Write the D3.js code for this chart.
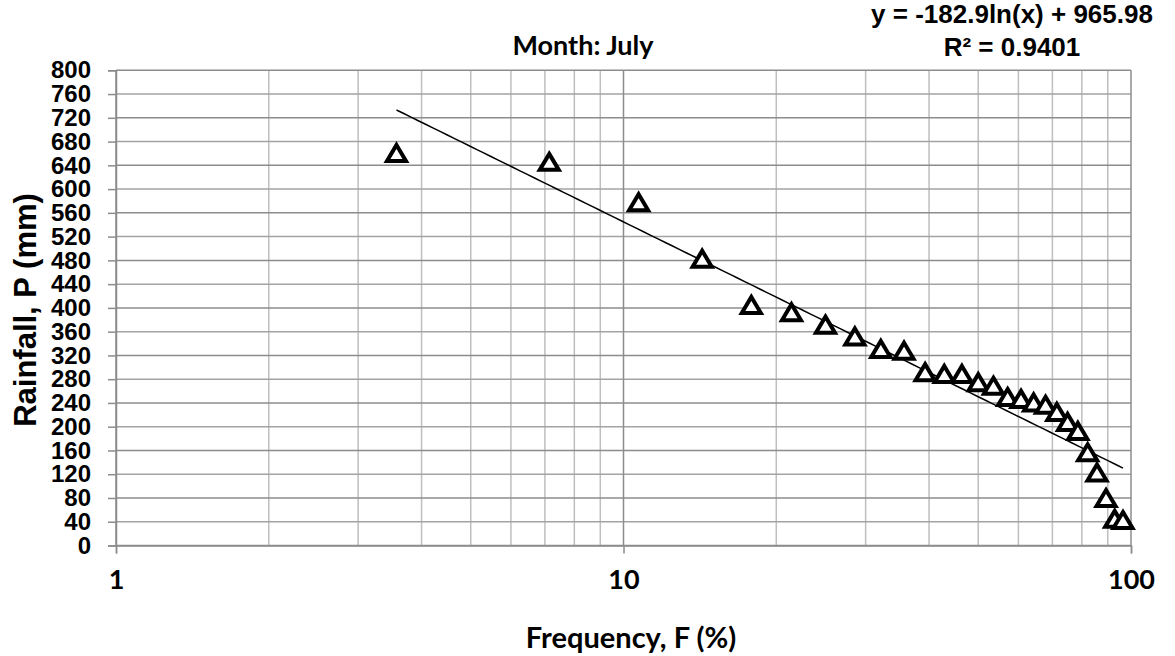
<!DOCTYPE html>
<html>
<head>
<meta charset="utf-8">
<script src="https://cdn.jsdelivr.net/npm/d3@7"></script>
<style>
  body { margin: 0; background: #fff; }
  svg text { fill: #000; }
</style>
</head>
<body>
<script>
// frequency (%) and rainfall (mm)
var frequency = [3.57, 7.14, 10.71, 14.29, 17.86, 21.43, 25, 28.57, 32.14, 35.71,
                 39.29, 42.86, 46.43, 50, 53.57, 57.14, 60.71, 64.29, 67.86, 71.43,
                 75, 78.57, 82.14, 85.71, 89.29, 92.86, 96.43];
var rainfall = [660, 645, 577, 482, 404, 392, 371, 351, 330, 327,
                291, 288, 288, 274, 268, 249, 246, 240, 236, 224,
                207, 192, 156, 122, 79, 44, 42];
var xTicks = [1, 10, 100];
var yTicks = d3.range(0, 801, 40);
var trendCoef = [-182.9, 965.98];
var eqLines = ['y = -182.9ln(x) + 965.98', 'R\u00b2 = 0.9401'];

var W = 1175, H = 656;
var plotL = 116, plotR = 1131, plotT = 70.3, plotB = 545.5;

var svg = d3.select('body').append('svg')
  .attr('width', W)
  .attr('height', H);

var x = d3.scaleLog().domain([1, 100]).range([plotL, plotR]);
var y = d3.scaleLinear().domain([0, 800]).range([plotB, plotT]);

// minor vertical grid
var minorX = [];
[1, 10].forEach(function(d) {
  for (var k = 2; k <= 9; k++) minorX.push(d * k);
});

svg.append('g').selectAll('line')
  .data(minorX)
  .enter().append('line')
  .attr('x1', function(d) { return x(d); })
  .attr('x2', function(d) { return x(d); })
  .attr('y1', plotT).attr('y2', plotB)
  .attr('stroke', '#bfbfbf')
  .attr('stroke-width', 1.5);

// horizontal grid
svg.append('g').selectAll('line')
  .data(yTicks)
  .enter().append('line')
  .attr('x1', plotL).attr('x2', plotR)
  .attr('y1', function(d) { return y(d); })
  .attr('y2', function(d) { return y(d); })
  .attr('stroke', function(d) { return d % 80 === 0 ? '#8c8c8c' : '#a3a3a3'; })
  .attr('stroke-width', 1.5);

// major vertical grid
svg.append('g').selectAll('line')
  .data(xTicks)
  .enter().append('line')
  .attr('x1', function(d) { return x(d); })
  .attr('x2', function(d) { return x(d); })
  .attr('y1', plotT).attr('y2', plotB)
  .attr('stroke', '#8c8c8c')
  .attr('stroke-width', 1.5);

// y axis
var yAxis = svg.append('g')
  .attr('transform', 'translate(' + plotL + ',0)')
  .call(d3.axisLeft(y).tickValues(yTicks).tickSize(8).tickPadding(17));
yAxis.select('.domain').attr('stroke', '#8c8c8c').attr('stroke-width', 1.5);
yAxis.selectAll('.tick line').attr('stroke', '#8c8c8c').attr('stroke-width', 1.5);
yAxis.selectAll('.tick text')
  .attr('font-family', '"Liberation Sans", Arial, sans-serif')
  .attr('font-weight', 'bold')
  .attr('font-size', 24)
  .attr('fill', '#000');

// x axis
var xAxis = svg.append('g')
  .attr('transform', 'translate(0,' + plotB + ')')
  .call(d3.axisBottom(x).tickValues(xTicks).tickFormat(d3.format('d')).tickSize(8).tickPadding(16));
xAxis.select('.domain').attr('stroke', '#8c8c8c').attr('stroke-width', 1.5);
xAxis.selectAll('.tick line').attr('stroke', '#8c8c8c').attr('stroke-width', 1.5);
xAxis.selectAll('.tick text')
  .attr('font-family', 'Lato, "Open Sans", sans-serif')
  .attr('font-weight', 'bold')
  .attr('font-size', 27)
  .attr('fill', '#000');

// trendline
var trendX = d3.range(0, 101).map(function(i) {
  var lo = Math.log(d3.min(frequency)), hi = Math.log(d3.max(frequency));
  return Math.exp(lo + (hi - lo) * i / 100);
});
var line = d3.line()
  .x(function(d) { return x(d); })
  .y(function(d) { return y(trendCoef[0] * Math.log(d) + trendCoef[1]); });
svg.append('path')
  .datum(trendX)
  .attr('d', line)
  .attr('fill', 'none')
  .attr('stroke', '#000')
  .attr('stroke-width', 1.5);

// points
svg.append('g').selectAll('path')
  .data(frequency)
  .enter().append('path')
  .attr('transform', function(d, i) {
    return 'translate(' + x(d) + ',' + y(rainfall[i]) + ')';
  })
  .attr('d', 'M0,-8.5L9.5,7.5L-9.5,7.5Z')
  .attr('fill', '#fff')
  .attr('stroke', '#000')
  .attr('stroke-width', 4)
  .attr('stroke-linejoin', 'miter');

// title
svg.append('text')
  .attr('x', 583).attr('y', 55)
  .attr('text-anchor', 'middle')
  .attr('font-family', 'Lato, "Open Sans", sans-serif')
  .attr('font-weight', 'bold')
  .attr('font-size', 27)
  .text('Month: July');

// equation
svg.append('g').selectAll('text')
  .data(eqLines)
  .enter().append('text')
  .attr('x', 1012)
  .attr('y', function(d, i) { return 23 + i * 33; })
  .attr('text-anchor', 'middle')
  .attr('font-family', '"Liberation Sans", Arial, sans-serif')
  .attr('font-weight', 'bold')
  .attr('font-size', 26)
  .text(function(d) { return d; });

// axis titles
svg.append('text')
  .attr('x', 631).attr('y', 648)
  .attr('text-anchor', 'middle')
  .attr('font-family', 'Lato, "Open Sans", sans-serif')
  .attr('font-weight', 'bold')
  .attr('font-size', 29)
  .text('Frequency, F (%)');

svg.append('text')
  .attr('transform', 'translate(36,310) rotate(-90)')
  .attr('text-anchor', 'middle')
  .attr('font-family', '"Liberation Sans", Arial, sans-serif')
  .attr('font-weight', 'bold')
  .attr('font-size', 31)
  .text('Rainfall, P (mm)');
</script>
</body>
</html>
